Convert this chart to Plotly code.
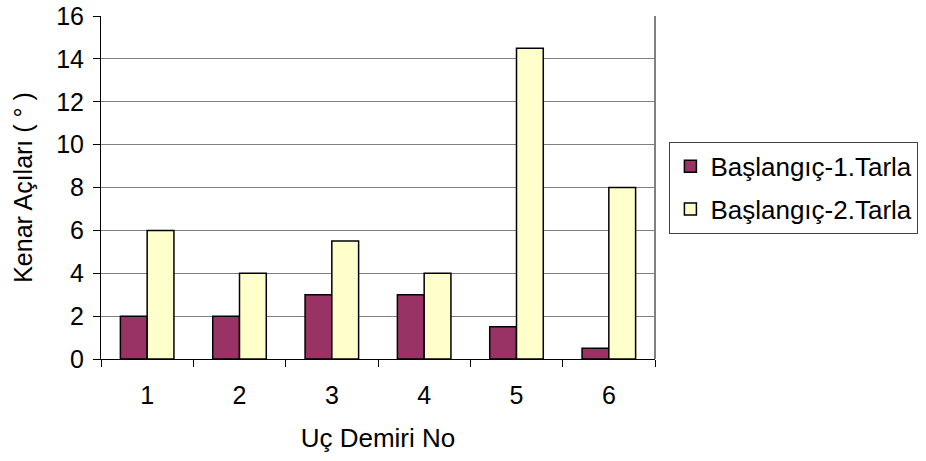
import plotly.graph_objects as go

# Uç demiri numaraları ve kenar açıları (derece)
categories = ["1", "2", "3", "4", "5", "6"]
tarla1 = [2, 2, 3, 3, 1.5, 0.5]
tarla2 = [6, 4, 5.5, 4, 14.5, 8]
series_names = ["Başlangıç-1.Tarla", "Başlangıç-2.Tarla"]
y_ticks = [0, 2, 4, 6, 8, 10, 12, 14, 16]

FONT = "Liberation Sans, Arial, sans-serif"

fig = go.Figure()
fig.add_trace(go.Bar(
    x=categories, y=tarla1, name=series_names[0], legendgroup="t1",
    marker=dict(color="#993366", line=dict(color="black", width=1.5)),
))
fig.add_trace(go.Bar(
    x=categories, y=tarla2, name=series_names[1], legendgroup="t2",
    marker=dict(color="#FFFFCC", line=dict(color="black", width=1.5)),
))

fig.update_layout(
    width=926, height=461,
    margin=dict(l=101, r=271, t=16, b=102, autoexpand=False),
    paper_bgcolor="white", plot_bgcolor="white",
    barmode="group", bargap=0.42, bargroupgap=0,
    font=dict(family=FONT, size=25, color="black"),
    showlegend=True,
    legend=dict(
        x=1.026, y=0.633, xanchor="left", yanchor="top",
        bordercolor="#404040", borderwidth=1,
        font=dict(family=FONT, size=26, color="black"),
        bgcolor="white",
        tracegroupgap=6,
        itemwidth=30,
    ),
    xaxis=dict(
        type="category",
        showline=True, linecolor="black", linewidth=1,
        ticks="outside", tickson="boundaries", ticklen=7,
        tickcolor="black", tickwidth=1,
        showgrid=False,
        tickfont=dict(size=25),
        ticklabelstandoff=14,
        title=dict(text="Uç Demiri No", font=dict(size=26), standoff=20),
    ),
    yaxis=dict(
        range=[0, 16], tickvals=y_ticks,
        showline=True, linecolor="black", linewidth=1,
        ticks="outside", ticklen=7, tickcolor="black", tickwidth=1,
        showgrid=True, gridcolor="#808080", gridwidth=1,
        zeroline=False,
        tickfont=dict(size=25),
        ticklabelstandoff=4,
        title=dict(text="Kenar Açıları ( ° )", font=dict(size=25), standoff=16),
    ),
)

# Çizim alanının sağ kenarı
fig.add_shape(type="line", xref="paper", yref="paper",
              x0=1, x1=1, y0=0, y1=1,
              line=dict(color="#808080", width=2))

fig.write_html("out.html")
